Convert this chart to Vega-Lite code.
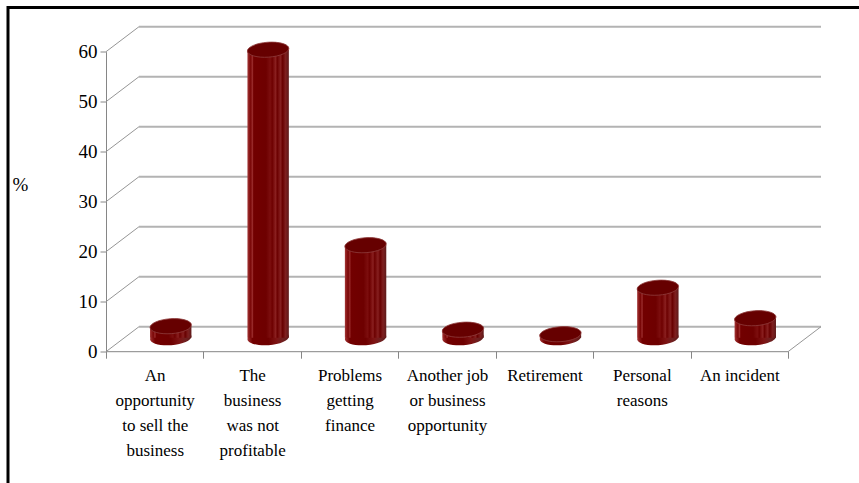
{
  "$schema": "https://vega.github.io/schema/vega-lite/v6.json",
  "width": 851,
  "height": 475.5,
  "autosize": {"type": "none"},
  "padding": {"left": 8, "top": 7.5, "right": 0, "bottom": 0},
  "background": "white",
  "config": {
    "font": "Liberation Serif",
    "view": {"stroke": "black", "strokeWidth": 3, "strokeDash": [851, 1326.5, 475.5, 200]},
    "axis": {"labelFont": "Liberation Serif", "titleFont": "Liberation Serif", "labelColor": "black", "titleColor": "black"}
  },
  "datasets": {
    "bars": [
      {"reason": "An|opportunity|to sell the|business", "value": 2.3},
      {"reason": "The|business|was not|profitable", "value": 57.6},
      {"reason": "Problems|getting|finance", "value": 18.5},
      {"reason": "Another job|or business|opportunity", "value": 1.6},
      {"reason": "Retirement", "value": 0.7},
      {"reason": "Personal|reasons", "value": 10.0},
      {"reason": "An incident", "value": 3.9}
    ],
    "grid": [
      {"value": 0}, {"value": 10}, {"value": 20}, {"value": 30}, {"value": 40}, {"value": 50}, {"value": 60}
    ],
    "floor": [{"value": 0}]
  },
  "layer": [
    {
      "data": {"name": "grid"},
      "mark": {"type": "rule", "color": "#b3b3b3", "strokeWidth": 2, "xOffset": 33, "x2Offset": 33, "yOffset": -25, "y2Offset": -25},
      "encoding": {
        "x": {"datum": "An|opportunity|to sell the|business", "bandPosition": 0, "type": "nominal", "sort": null},
        "x2": {"datum": "An incident", "bandPosition": 1},
        "y": {"field": "value", "type": "quantitative", "scale": {"domain": [0, 60], "nice": false, "zero": true, "range": [344.2, 44.2]}},
        "y2": {"field": "value"}
      }
    },
    {
      "data": {"name": "grid"},
      "mark": {"type": "rule", "color": "#969696", "strokeWidth": 1, "x2Offset": 33, "y2Offset": -25},
      "encoding": {
        "x": {"datum": "An|opportunity|to sell the|business", "bandPosition": 0, "type": "nominal", "sort": null},
        "x2": {"datum": "An|opportunity|to sell the|business", "bandPosition": 0},
        "y": {"field": "value", "type": "quantitative"},
        "y2": {"field": "value"}
      }
    },
    {
      "data": {"name": "floor"},
      "mark": {"type": "rule", "color": "#969696", "strokeWidth": 1, "x2Offset": 33, "y2Offset": -25},
      "encoding": {
        "x": {"datum": "An incident", "bandPosition": 1, "type": "nominal", "sort": null},
        "x2": {"datum": "An incident", "bandPosition": 1},
        "y": {"field": "value", "type": "quantitative"},
        "y2": {"field": "value"}
      }
    },
    {
      "data": {"name": "bars"},
      "mark": {
        "type": "point", "filled": true, "size": 1722, "opacity": 1, "angle": -4,
        "shape": "M -1 0 A 1 0.36 0 1 0 1 0 A 1 0.36 0 1 0 -1 0 Z",
        "xOffset": 16, "yOffset": -14,
        "color": {"gradient": "linear", "x1": 0, "x2": 1, "y1": 0, "y2": 0, "stops": [
          {"offset": 0, "color": "#a33a3a"}, {"offset": 0.06, "color": "#8a1818"}, {"offset": 0.12, "color": "#720000"},
          {"offset": 0.5, "color": "#6e0000"}, {"offset": 0.7, "color": "#7e1414"}, {"offset": 0.85, "color": "#702020"}, {"offset": 1, "color": "#5e1a1a"}]}
      },
      "encoding": {
        "x": {"field": "reason", "type": "nominal", "sort": null},
        "y": {"datum": 0, "type": "quantitative"}
      }
    },
    {
      "data": {"name": "bars"},
      "mark": {
        "type": "bar", "width": {"band": 0.425}, "xOffset": 16, "yOffset": -14, "y2Offset": -14,
        "color": {"gradient": "linear", "x1": 0, "x2": 1, "y1": 0, "y2": 0, "stops": [
          {"offset": 0, "color": "#a33a3a"}, {"offset": 0.04, "color": "#8e1c1c"}, {"offset": 0.08, "color": "#7a0606"},
          {"offset": 0.12, "color": "#9a2c2c"}, {"offset": 0.15, "color": "#720000"}, {"offset": 0.45, "color": "#6e0000"},
          {"offset": 0.55, "color": "#7c0e0e"}, {"offset": 0.6, "color": "#6e0000"}, {"offset": 0.68, "color": "#8a2020"},
          {"offset": 0.72, "color": "#6c0000"}, {"offset": 0.8, "color": "#862020"}, {"offset": 0.85, "color": "#680000"},
          {"offset": 0.92, "color": "#7e2020"}, {"offset": 1, "color": "#5e1a1a"}]}
      },
      "encoding": {
        "x": {
          "field": "reason", "type": "nominal", "sort": null,
          "scale": {
            "domain": ["An|opportunity|to sell the|business", "The|business|was not|profitable", "Problems|getting|finance", "Another job|or business|opportunity", "Retirement", "Personal|reasons", "An incident"],
            "range": [98, 780], "paddingInner": 0, "paddingOuter": 0
          },
          "axis": {
            "title": null, "offset": -131.8, "labelAngle": 0, "labelExpr": "split(datum.label, '|')",
            "labelFontSize": 17, "labelLineHeight": 25, "labelPadding": 9, "labelLimit": 200,
            "labelAlign": "center", "labelBound": false, "labelOverlap": false,
            "tickBand": "extent", "tickSize": 7, "tickColor": "#868686", "domainColor": "#868686",
            "labelBaseline": "top"
          }
        },
        "y": {
          "field": "value", "type": "quantitative",
          "scale": {"domain": [0, 60], "nice": false, "zero": true, "range": [344.2, 44.2]},
          "axis": {
            "title": "%", "titleAngle": 0, "titleX": -86, "titleY": 176.5, "titleAlign": "center", "titleBaseline": "middle",
            "titleFontSize": 19, "titleFontWeight": "normal",
            "offset": -98, "values": [0, 10, 20, 30, 40, 50, 60], "grid": false,
            "labelFontSize": 19, "labelPadding": 3, "tickSize": 6, "tickColor": "#868686", "domainColor": "#868686"
          }
        }
      }
    },
    {
      "data": {"name": "bars"},
      "mark": {
        "type": "point", "filled": true, "size": 1722, "opacity": 1, "angle": -4,
        "shape": "M -1 0 A 1 0.36 0 1 0 1 0 A 1 0.36 0 1 0 -1 0 Z",
        "xOffset": 16, "yOffset": -14, "color": "#660000", "stroke": "#8e3c3c", "strokeWidth": 0.8
      },
      "encoding": {
        "x": {"field": "reason", "type": "nominal", "sort": null},
        "y": {"field": "value", "type": "quantitative"}
      }
    }
  ]
}
